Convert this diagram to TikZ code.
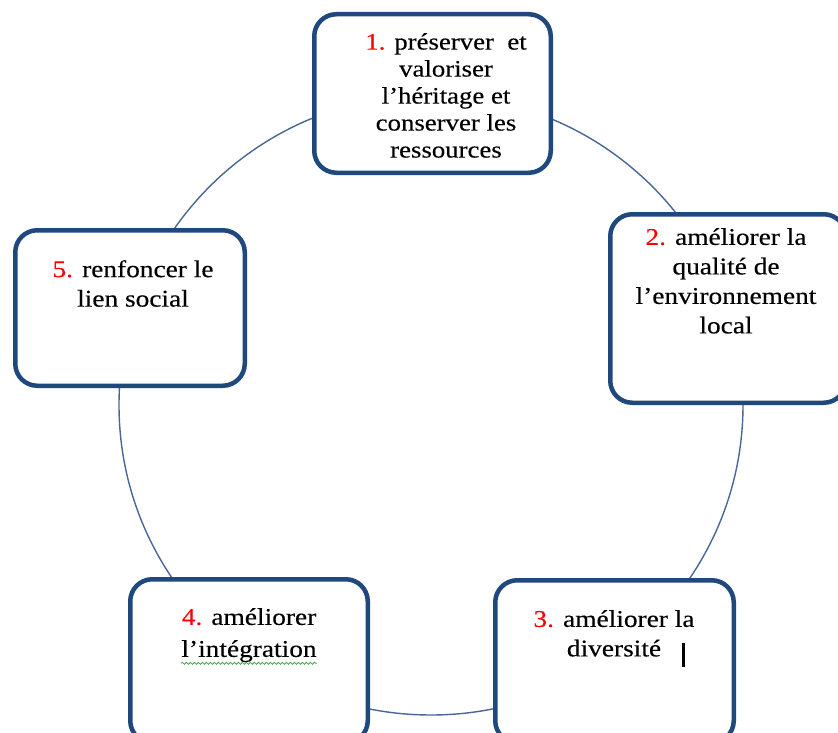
\documentclass[tikz,border=0pt]{standalone}
\usepackage{fontspec}
\setmainfont{Liberation Serif}[FakeStretch=1.14, FakeBold=0.25]
\usetikzlibrary{decorations.pathmorphing}
\definecolor{boxblue}{RGB}{31,73,125}
\definecolor{ringblue}{RGB}{72,102,150}
\definecolor{numred}{RGB}{255,0,0}
\definecolor{spellgreen}{RGB}{60,170,60}
\newcommand{\goalnum}[1]{\textcolor{numred}{#1.}}

\begin{document}
\begin{tikzpicture}[x=1pt, y=-1pt,
  goal/.style={draw=boxblue, line width=4.5pt, rounded corners=22pt, fill=white, inner sep=0pt},
  goaltext/.style={anchor=north, align=center, inner sep=0pt, font=\fontsize{24}{29.5}\selectfont}]
\useasboundingbox (0,0) rectangle (838,733);
\clip (0,0) rectangle (838,733);

% the ring behind the five goals
\coordinate (mid) at (431,405);
\draw[ringblue, line width=1.4pt] (mid) ellipse [x radius=312pt, y radius=310pt];

% boxes
\node[goal, minimum width=236.5pt, minimum height=158.5pt] (g1) at (432.5,93.5) {};
\node[goal, minimum width=235.5pt, minimum height=188.5pt] (g2) at (728,308.5) {};
\node[goal, minimum width=238.5pt, minimum height=162.5pt] (g3) at (614.5,661.5) {};
\node[goal, minimum width=237.5pt, minimum height=163.5pt] (g4) at (249,661) {};
\node[goal, minimum width=229.5pt, minimum height=155.5pt] (g5) at (130,308) {};

% texts
\node[goaltext, font=\fontsize{23.5}{27}\selectfont] (t1) at (446,33) {\goalnum{1} préserver\ \ et\\valoriser\\l’héritage et\\conserver les\\ressources};
\node[goaltext] (t2) at (726,228) {\goalnum{2} améliorer la\\qualité de\\l’environnement\\local};
\node[goaltext] (t3) at (614,610) {\goalnum{3} améliorer la\\diversité};
\node[goaltext, font=\fontsize{24}{32}\selectfont] (t4) at (249,608) {\goalnum{4} améliorer\\l’intégration};
\node[goaltext] (t5) at (133,260) {\goalnum{5} renfoncer le\\lien social};

% spell check line and cursor
\draw[spellgreen, line width=0.8pt, decorate, decoration={snake, amplitude=1pt, segment length=4pt}]
  ([yshift=-1pt]t4.south west) -- ([yshift=-1pt]t4.south east);
\draw[line width=2.6pt] (683.5,643) -- (683.5,667);
\end{tikzpicture}
\end{document}
